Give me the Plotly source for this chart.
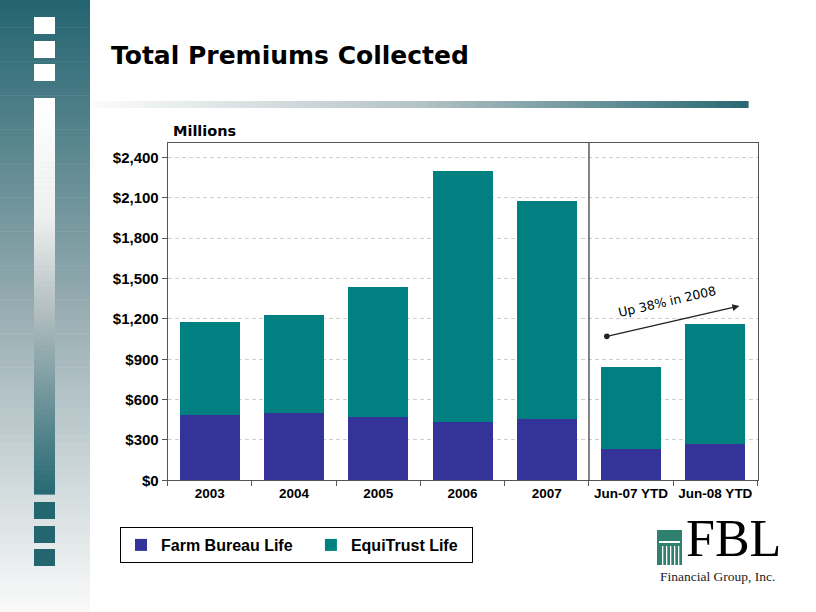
import plotly.graph_objects as go

# ---------------- data ----------------
categories = ["2003", "2004", "2005", "2006", "2007", "Jun-07 YTD", "Jun-08 YTD"]
farm_bureau = [486, 498, 473, 436, 454, 235, 272]
equitrust_total = [1178, 1228, 1438, 2301, 2080, 841, 1161]
equitrust = [t - f for t, f in zip(equitrust_total, farm_bureau)]
y_ticks = [0, 300, 600, 900, 1200, 1500, 1800, 2100, 2400]
y_tick_text = ["$" + format(v, ",") for v in y_ticks]
series_names = ["Farm Bureau Life", "EquiTrust Life"]

W, H = 816, 612
FB_COLOR = "#333399"
ET_COLOR = "#008080"
TEAL = (35, 100, 112)
NBSP = "\u00a0"


def px(x):
    return x / W


def py(y):
    return 1 - y / H


def mix(c1, c2, t):
    return "rgb(%d,%d,%d)" % tuple(round(a + (b - a) * t) for a, b in zip(c1, c2))


def interp_stops(stops, t):
    for (t0, c0), (t1, c1) in zip(stops[:-1], stops[1:]):
        if t0 <= t <= t1:
            return mix(c0, c1, (t - t0) / (t1 - t0) if t1 > t0 else 0)
    return mix(stops[-1][1], stops[-1][1], 0)


shapes = []


def rect(x0, y0, x1, y1, color, layer="below"):
    shapes.append(dict(type="rect", xref="paper", yref="paper",
                       x0=px(x0), x1=px(x1), y0=py(y1), y1=py(y0),
                       fillcolor=color, line=dict(width=0), layer=layer))


# left panel: vertical gradient teal -> white
panel_stops = [(0, TEAL), (0.5, (150, 172, 177)), (1, (250, 250, 250))]
n = 90
for i in range(n):
    y0 = H * i / n
    y1 = H * (i + 1) / n + 0.6
    rect(0, y0, 90, y1, interp_stops(panel_stops, (i + 0.5) / n))

# white squares at top
for y0 in (17, 41, 64):
    rect(34, y0, 55, y0 + 17, "white")

# vertical bar: white -> teal
bar_stops = [(0, (255, 255, 255)), (0.3, (238, 240, 240)), (0.55, (175, 188, 190)), (1, (38, 104, 114))]
n = 80
top, bot = 98, 494
for i in range(n):
    y0 = top + (bot - top) * i / n
    y1 = top + (bot - top) * (i + 1) / n + 0.6
    rect(34, y0, 55, y1, interp_stops(bar_stops, (i + 0.5) / n))

# teal squares at bottom
for y0 in (502, 526, 549):
    rect(34, y0, 55, y0 + 17, "rgb(35,102,112)")

# horizontal line under title: white -> teal
line_stops = [(0, (252, 252, 252)), (0.5, (180, 195, 198)), (1, (40, 104, 114))]
n = 80
x_a, x_b = 90, 748
for i in range(n):
    x0 = x_a + (x_b - x_a) * i / n
    x1 = x_a + (x_b - x_a) * (i + 1) / n + 0.6
    rect(x0, 101, x1, 108, interp_stops(line_stops, (i + 0.5) / n))

# divider between annual and YTD
shapes.append(dict(type="line", xref="x", yref="y domain", x0=4.5, x1=4.5, y0=0, y1=1,
                   line=dict(color="#333333", width=1.2), layer="above"))

# logo graphic (column)
LOGO_GREEN = "rgb(48,128,112)"
rect(657, 530, 682, 565, LOGO_GREEN, layer="above")
rect(659, 541, 680, 543, "white", layer="above")
for xs in (662, 666, 670, 674, 678):
    rect(xs, 546, xs + 1.3, 565, "white", layer="above")

# ---------------- traces ----------------
fig = go.Figure()
fig.add_trace(go.Bar(name=series_names[0] + NBSP * 3, x=categories, y=farm_bureau,
                     marker=dict(color=FB_COLOR, line=dict(width=0))))
fig.add_trace(go.Bar(name=series_names[1] + NBSP * 2, x=categories, y=equitrust,
                     marker=dict(color=ET_COLOR, line=dict(width=0))))

annotations = [
    dict(text="Total Premiums Collected", xref="paper", yref="paper",
         x=px(109), y=py(55), xanchor="left", yanchor="middle", showarrow=False,
         font=dict(family="DejaVu Sans", size=25, color="black", weight="bold")),
    dict(text="Millions", xref="paper", yref="paper",
         x=px(171), y=py(131), xanchor="left", yanchor="middle", showarrow=False,
         font=dict(family="DejaVu Sans", size=14.5, color="black", weight="bold")),
    # arrow
    dict(text="", xref="x", yref="y", axref="x", ayref="y",
         x=6.285, y=1296, ax=4.694, ay=1068, showarrow=True,
         arrowhead=2, arrowsize=1, arrowwidth=1.4, arrowcolor="#222222",
         startarrowhead=6, startarrowsize=1.0, arrowside="end+start"),
    dict(text="Up 38% in 2008", xref="paper", yref="paper",
         x=px(667), y=py(301), xanchor="center", yanchor="middle", showarrow=False,
         textangle=-13, font=dict(family="DejaVu Sans", size=12.5, color="black")),
    # logo text
    dict(text="FBL", xref="paper", yref="paper",
         x=px(684), y=py(569), xanchor="left", yanchor="bottom", showarrow=False,
         font=dict(family="Liberation Serif", size=52, color="black")),
    dict(text="Financial Group, Inc.", xref="paper", yref="paper",
         x=px(777), y=py(576), xanchor="right", yanchor="middle", showarrow=False,
         font=dict(family="Liberation Serif", size=13.5, color="#222222")),
]

fig.update_layout(
    width=W, height=H,
    margin=dict(l=0, r=0, t=0, b=0, pad=0, autoexpand=False),
    paper_bgcolor="white", plot_bgcolor="white",
    barmode="stack", bargap=0.287,
    shapes=shapes, annotations=annotations,
    showlegend=True,
    legend=dict(orientation="h", x=px(120), y=py(527), xanchor="left", yanchor="top",
                bordercolor="black", borderwidth=1, bgcolor="white",
                traceorder="normal",
                font=dict(family="Liberation Sans", size=16, color="black", weight="bold")),
    xaxis=dict(domain=[px(167.7), px(757.5)], type="category",
               showline=True, linecolor="#555555", linewidth=1, mirror=True,
               ticks="outside", tickson="boundaries", ticklen=5, tickcolor="#555555",
               showgrid=False, tickangle=0,
               tickfont=dict(family="Liberation Sans", size=13.5, color="black", weight="bold")),
    yaxis=dict(domain=[py(480.3), py(143)], range=[0, 2508],
               tickmode="array", tickvals=y_ticks, ticktext=y_tick_text,
               showline=True, linecolor="#555555", linewidth=1, mirror=True,
               ticks="outside", ticklen=5, tickcolor="#555555",
               showgrid=True, gridcolor="#d9cccc", griddash="4px,3px", gridwidth=1,
               zeroline=False,
               tickfont=dict(family="Liberation Sans", size=15, color="black", weight="bold")),
)

fig.write_html("out.html", config={"displayModeBar": False},
               post_script="document.body.style.margin='0';")
